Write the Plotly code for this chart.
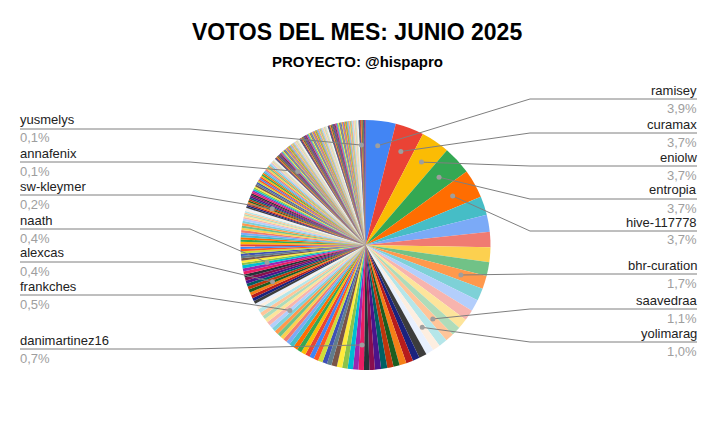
import plotly.graph_objects as go
import math

big = [3.9, 3.7, 3.7, 3.7, 3.7, 2.4, 2.2, 2.0, 1.9, 1.8, 1.7, 1.6, 1.5, 1.4, 1.3, 1.2, 1.1, 1.1,
       1.0, 1.0, 1.0, 0.9, 0.9, 0.9, 0.8, 0.8, 0.8, 0.8]
v07 = [0.7, 0.7, 0.7, 0.7, 0.7, 0.7, 0.7, 0.7]
v06 = [0.6, 0.6, 0.6, 0.6, 0.6, 0.6, 0.6, 0.6, 0.6, 0.6]
v05 = [0.5, 0.5, 0.5, 0.5, 0.5, 0.5, 0.5, 0.5, 0.5, 0.5, 0.5, 0.5]
v04 = [0.4, 0.4, 0.4, 0.4, 0.4, 0.4, 0.4, 0.4, 0.4, 0.4, 0.4, 0.4, 0.4, 0.4, 0.4]
v03 = [0.3, 0.3, 0.3, 0.3, 0.3, 0.3, 0.3, 0.3, 0.3, 0.3, 0.3, 0.3, 0.3, 0.3, 0.3, 0.3, 0.3, 0.3, 0.3, 0.3]
v02 = [0.2, 0.2, 0.2, 0.2, 0.2, 0.2, 0.2, 0.2, 0.2, 0.2, 0.2, 0.2, 0.2, 0.2, 0.2, 0.2, 0.2, 0.2, 0.2, 0.2,
       0.2, 0.2, 0.2, 0.2, 0.2, 0.2, 0.2, 0.2, 0.2, 0.2, 0.2, 0.2, 0.2, 0.2, 0.2, 0.2, 0.2, 0.2, 0.2, 0.2]
v01 = [0.1, 0.1, 0.1, 0.1, 0.1, 0.1, 0.1, 0.1, 0.1, 0.1, 0.1, 0.1, 0.1, 0.1, 0.1, 0.1, 0.1, 0.1, 0.1, 0.1,
       0.1, 0.1, 0.1, 0.1, 0.1, 0.1, 0.1, 0.1, 0.1, 0.1, 0.1, 0.1, 0.1, 0.1, 0.1, 0.1, 0.1, 0.1, 0.1, 0.1,
       0.1, 0.1, 0.1, 0.1, 0.1, 0.1, 0.1, 0.1, 0.1, 0.1, 0.1, 0.1, 0.1, 0.1, 0.1, 0.1, 0.1, 0.1, 0.1, 0.1,
       0.1, 0.1, 0.1, 0.1, 0.1, 0.1, 0.1, 0.1, 0.1, 0.1, 0.1, 0.1, 0.1, 0.1, 0.1, 0.1, 0.1, 0.1, 0.1, 0.1,
       0.1, 0.1, 0.1, 0.1, 0.1, 0.1, 0.1, 0.1, 0.1, 0.1, 0.1, 0.1, 0.1, 0.1, 0.1, 0.1, 0.1, 0.1, 0.1, 0.1,
       0.1, 0.1, 0.1, 0.1, 0.1, 0.1, 0.1, 0.1, 0.1, 0.1, 0.1, 0.1, 0.1, 0.1, 0.1, 0.1, 0.1, 0.1, 0.1, 0.1,
       0.1, 0.1, 0.1, 0.1, 0.1, 0.1, 0.1, 0.1, 0.1, 0.1, 0.1, 0.1, 0.1, 0.1, 0.1, 0.1]
values = big + v07 + v06 + v05 + v04 + v03 + v02 + v01

# named slices: index -> (name, shown percent, side, label y px)
named = {
    0: ("ramisey", "3,9%", "R", 90),
    1: ("curamax", "3,7%", "R", 124),
    2: ("eniolw", "3,7%", "R", 157),
    3: ("entropia", "3,7%", "R", 190),
    4: ("hive-117778", "3,7%", "R", 222),
    10: ("bhr-curation", "1,7%", "R", 265),
    16: ("saavedraa", "1,1%", "R", 300),
    18: ("yolimarag", "1,0%", "R", 333),
    30: ("danimartinez16", "0,7%", "L", 340),
    52: ("frankches", "0,5%", "L", 286),
    64: ("alexcas", "0,4%", "L", 253),
    72: ("naath", "0,4%", "L", 220),
    105: ("sw-kleymer", "0,2%", "L", 186),
    150: ("annafenix", "0,1%", "L", 153),
    262: ("yusmelys", "0,1%", "L", 120),
}

palette = ["#4285F4", "#EA4335", "#FBBC04", "#34A853", "#FF6D01", "#46BDC6", "#7BAAF7", "#F07B72",
           "#FCD04F", "#71C287", "#FF994D", "#7ED1D7", "#B3CEFB", "#F7B4AE", "#FDE49B", "#AEDCBA",
           "#FFC599", "#B5E6E9", "#FDEEE0", "#E8F0FE", "#3C3C3C", "#1A237E", "#B71C1C", "#F57F17",
           "#1B5E20", "#BF360C", "#006064", "#4A148C", "#880E4F", "#263238", "#E91E63", "#9C27B0",
           "#00BCD4", "#8BC34A", "#FFEB3B", "#795548", "#607D8B", "#3F51B5", "#CDDC39", "#FF5722"]
colors = [palette[i % len(palette)] for i in range(len(values))]

W, H = 715, 440
OFF_X, OFF_Y = 8, 8  # page body margin
px = lambda x: (x - OFF_X) / W
py = lambda y: 1 - (y - OFF_Y) / H

cx, cy, r = 360, 245, 125
dom_y = (py(cy + r), py(cy - r))
dom_x = (0.0, 1.0)
cx_eff = OFF_X + W / 2

fig = go.Figure(go.Pie(values=values, sort=False, direction="clockwise", rotation=0,
                       marker=dict(colors=colors, line=dict(width=0)),
                       textinfo="none", hoverinfo="skip", showlegend=False,
                       domain=dict(x=list(dom_x), y=list(dom_y))))

total = sum(values)
cum = 0
shapes, annos = [], []
for i, val in enumerate(values):
    if i in named:
        name, pct, side, ly = named[i]
        ang = 2 * math.pi * (cum + val / 2) / total
        sx = cx_eff + 0.8 * r * math.sin(ang)
        sy = cy - 0.8 * r * math.cos(ang)
        lineY = ly + 9
        if side == "R":
            x0, x1, anchor, tx = 697, 530, "right", 699
        else:
            x0, x1, anchor, tx = 20, 190, "left", 18
        shapes.append(dict(type="path", xref="paper", yref="paper",
                           path=f"M {px(x0)},{py(lineY)} L {px(x1)},{py(lineY)} L {px(sx)},{py(sy)}",
                           line=dict(color="#7f7f7f", width=1)))
        shapes.append(dict(type="circle", xref="paper", yref="paper",
                           x0=px(sx - 2.5), x1=px(sx + 2.5), y0=py(sy - 2.5), y1=py(sy + 2.5),
                           fillcolor="#9e9e9e", line=dict(width=0)))
        annos.append(dict(x=px(tx), y=py(ly), xref="paper", yref="paper", text=name, showarrow=False,
                          xanchor=anchor, yanchor="middle", font=dict(size=13, color="#222")))
        annos.append(dict(x=px(tx), y=py(ly + 18), xref="paper", yref="paper", text=pct, showarrow=False,
                          xanchor=anchor, yanchor="middle", font=dict(size=13, color="#9e9e9e")))
    cum += val

annos.append(dict(x=px(357), y=py(32), xref="paper", yref="paper", text="<b>VOTOS DEL MES: JUNIO 2025</b>",
                  showarrow=False, yanchor="middle", font=dict(size=23, color="#000")))
annos.append(dict(x=px(357), y=py(62), xref="paper", yref="paper", text="<b>PROYECTO: @hispapro</b>",
                  showarrow=False, yanchor="middle", font=dict(size=15, color="#000")))

fig.update_layout(width=W, height=H, margin=dict(l=0, r=0, t=0, b=0), autosize=False,
                  paper_bgcolor="white", font=dict(family="Liberation Sans, Arial"),
                  shapes=shapes, annotations=annos)
fig.write_html("out.html")
